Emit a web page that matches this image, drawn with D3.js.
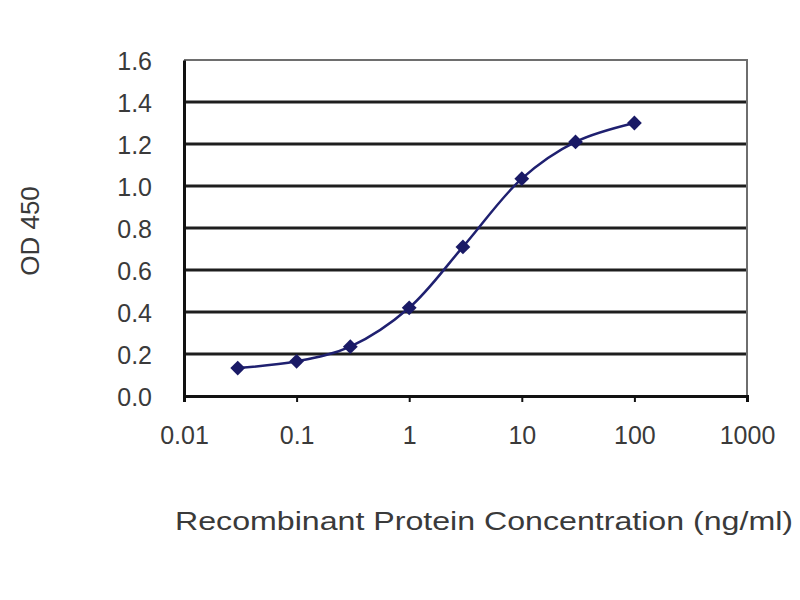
<!DOCTYPE html>
<html>
<head>
<meta charset="utf-8">
<script src="https://cdn.jsdelivr.net/npm/d3@7"></script>
<style>
  body { margin: 0; background: #fff; }
  text { font-family: "Liberation Sans", Arial, sans-serif; fill: #3a3a3a; }
</style>
</head>
<body>
<svg width="800" height="600"></svg>
<script>
var concentrations = [0.03, 0.1, 0.3, 1, 3, 10, 30, 100];
var od450 = [0.133, 0.165, 0.235, 0.42, 0.71, 1.035, 1.21, 1.30];
var xTicks = [0.01, 0.1, 1, 10, 100, 1000];
var xTickLabels = ["0.01", "0.1", "1", "10", "100", "1000"];
var yTicks = [0, 0.2, 0.4, 0.6, 0.8, 1.0, 1.2, 1.4, 1.6];

var svg = d3.select("svg"),
    margin = {top: 60, right: 53, bottom: 204, left: 184},
    width = +svg.attr("width") - margin.left - margin.right,
    height = +svg.attr("height") - margin.top - margin.bottom,
    g = svg.append("g").attr("transform", "translate(" + margin.left + "," + margin.top + ")");

var x = d3.scaleLog().domain([0.01, 1000]).range([0, width]);
var y = d3.scaleLinear().domain([0, 1.6]).range([height, 0]);

// horizontal gridlines
g.selectAll(".grid")
  .data(yTicks.filter(function(d) { return d > 0 && d < 1.6; }))
  .enter().append("line")
    .attr("x1", 0)
    .attr("x2", width)
    .attr("y1", function(d) { return y(d); })
    .attr("y2", function(d) { return y(d); })
    .style("stroke", "#1e1e1e")
    .style("stroke-width", 3);

// top and right border
g.append("path")
  .attr("d", "M0," + y(1.6) + "H" + width + "V" + height)
  .style("fill", "none")
  .style("stroke", "#6e6e6e")
  .style("stroke-width", 2);

// y axis
var yAxis = g.append("g")
  .call(d3.axisLeft(y).tickValues(yTicks).tickSize(0).tickPadding(32)
    .tickFormat(d3.format(".1f")));
yAxis.select(".domain").style("stroke", "#111").style("stroke-width", 3);
yAxis.selectAll("text").style("font-size", "25px").attr("dy", "0.36em");

// x axis
var xAxis = g.append("g")
  .attr("transform", "translate(0," + height + ")")
  .call(d3.axisBottom(x).tickValues(xTicks).tickSize(6).tickPadding(24)
    .tickFormat(function(d, i) { return xTickLabels[i]; }));
xAxis.select(".domain").style("stroke", "#111").style("stroke-width", 3);
xAxis.selectAll(".tick line").style("stroke", "#111").style("stroke-width", 2);
xAxis.selectAll("text").style("font-size", "25px");

// curve
var pts = concentrations.map(function(c, i) { return [c, od450[i]]; });
var line = d3.line()
  .x(function(d) { return x(d[0]); })
  .y(function(d) { return y(d[1]); })
  .curve(d3.curveCatmullRom.alpha(0.5));

g.append("path")
  .datum(pts)
  .attr("d", line)
  .style("fill", "none")
  .style("stroke", "#1f2070")
  .style("stroke-width", 2.5);

g.selectAll(".pt")
  .data(pts)
  .enter().append("path")
    .attr("transform", function(d) { return "translate(" + x(d[0]) + "," + y(d[1]) + ")"; })
    .attr("d", d3.symbol().type(d3.symbolDiamond2).size(140))
    .style("fill", "#1a1a66");

// axis titles
svg.append("text")
  .attr("transform", "translate(39,231) rotate(-90)")
  .attr("text-anchor", "middle")
  .style("font-size", "26px")
  .text("OD 450");

svg.append("text")
  .attr("x", 484)
  .attr("y", 530)
  .attr("text-anchor", "middle")
  .style("font-size", "26px")
  .attr("textLength", 618)
  .attr("lengthAdjust", "spacingAndGlyphs")
  .text("Recombinant Protein Concentration (ng/ml)");
</script>
</body>
</html>
